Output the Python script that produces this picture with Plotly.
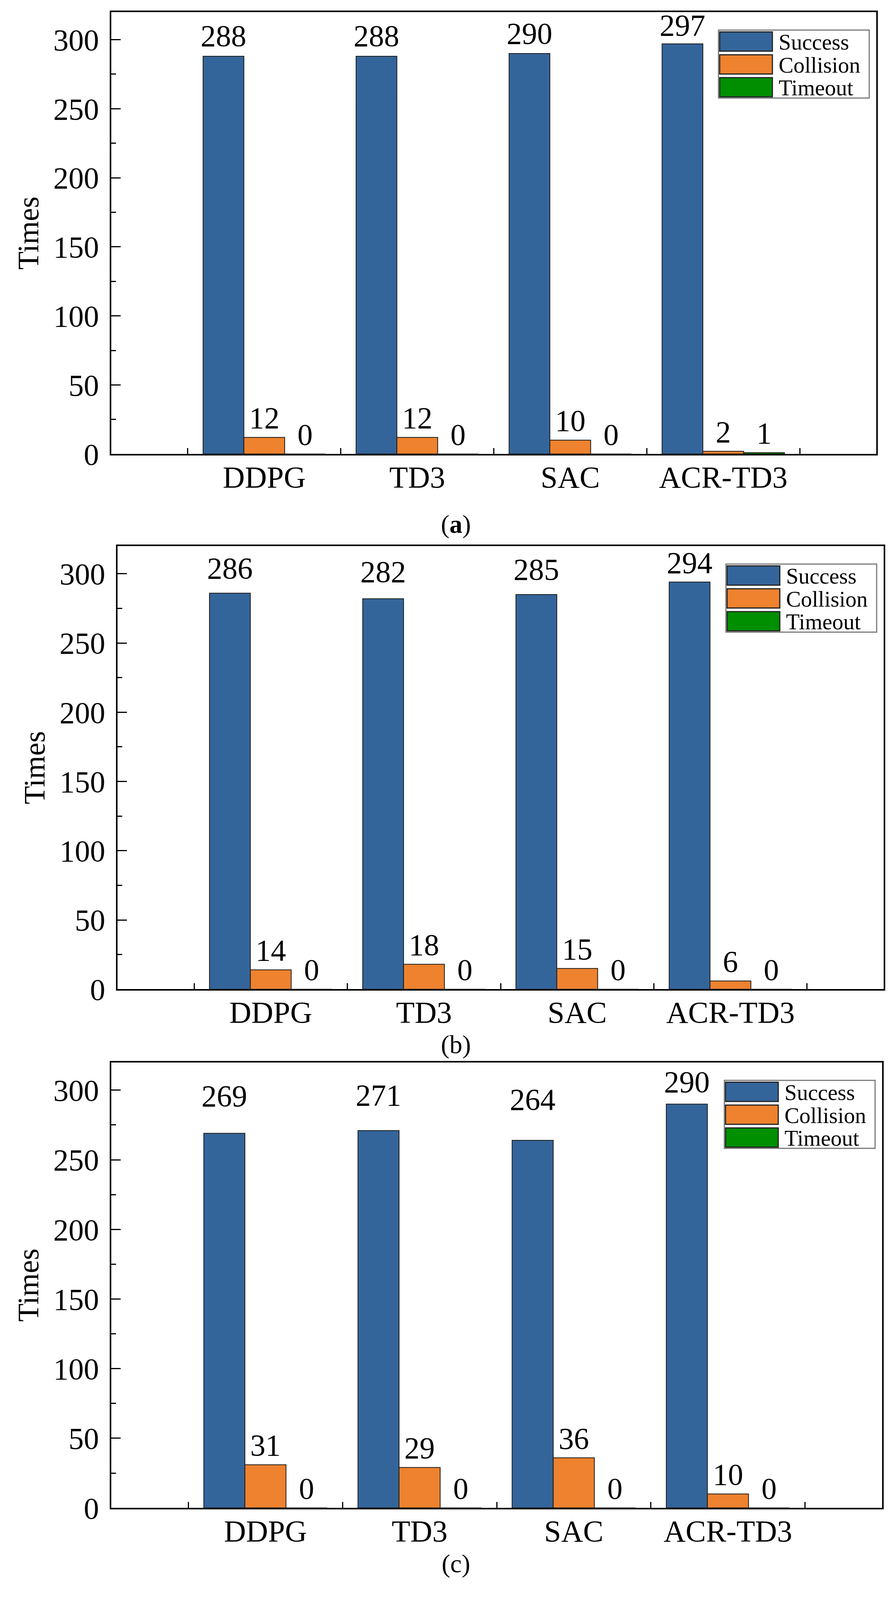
import plotly.graph_objects as go

# ---------------- data ----------------
categories = ["DDPG", "TD3", "SAC", "ACR-TD3"]
series_names = ["Success", "Collision", "Timeout"]

success_a = [288, 288, 290, 297]
collision_a = [12, 12, 10, 2]
timeout_a = [0, 0, 0, 1]

success_b = [286, 282, 285, 294]
collision_b = [14, 18, 15, 6]
timeout_b = [0, 0, 0, 0]

success_c = [269, 271, 264, 290]
collision_c = [31, 29, 36, 10]
timeout_c = [0, 0, 0, 0]

y_ticks = [0, 50, 100, 150, 200, 250, 300]
panel_captions = ["(<b>a</b>)", "(b)", "(c)"]
y_title = "Times"

panels = [
    [success_a, collision_a, timeout_a],
    [success_b, collision_b, timeout_b],
    [success_c, collision_c, timeout_c],
]

# ---------------- style ----------------
W_REF, H_REF = 2292, 5261          # reference pixel grid used for placement
FIG_W, FIG_H = 2292, 4096          # browser viewport actually available
SY = FIG_H / H_REF                 # vertical pixel scale

FONT = "Times New Roman, Liberation Serif, serif"
colors = ["#34659A", "#EE822F", "#008F00"]
boxes = [(285, 40, 2244, 1509), (301, 1815, 2263, 3288), (285, 3531, 2259, 5012)]
caption_y_px = [1742, 3472, 5198]
caption_x_px = 1167
# label offsets above bar tops (reference pixels), per panel
success_label_gap = [[33, 33, 32, 16], [48, 55, 49, 29], [89, 83, 100, 39]]
other_label_gap = 30
LABEL_FS = 78
TICK_FS = 78
TITLE_FS = 76
LEGEND_FS = 57
CAPTION_FS = 66


def px2x(px):
    return px / W_REF


def px2y(py):
    return 1 - py / H_REF


def gap_to_size(gap_ref, fs=LABEL_FS):
    gap = gap_ref * SY
    r = gap - 0.25 * fs
    mr = max((r - 1) * 0.8, 0.5)
    return 2 * mr


fig = go.Figure()
layout_axes = {}
shapes = []
annotations = []

for p, (series, box) in enumerate(zip(panels, boxes)):
    L, T, R, B = box
    xa = "x" if p == 0 else f"x{p+1}"
    ya = "y" if p == 0 else f"y{p+1}"
    for s, (name, vals) in enumerate(zip(series_names, series)):
        fig.add_trace(go.Bar(
            x=categories, y=vals, name=name,
            marker=dict(color=colors[s], line=dict(color="#1a1a1a", width=2)),
            offsetgroup=str(s + 1),
            xaxis=xa, yaxis=ya, showlegend=False,
        ))
        if s == 0:
            sizes = [gap_to_size(g) for g in success_label_gap[p]]
        else:
            sizes = [gap_to_size(other_label_gap)] * len(vals)
        fig.add_trace(go.Scatter(
            x=categories, y=vals, mode="markers+text",
            text=[str(v) for v in vals], textposition="top center",
            textfont=dict(family=FONT, size=LABEL_FS, color="black"),
            marker=dict(size=sizes, color="rgba(0,0,0,0)",
                        line=dict(width=0, color="rgba(0,0,0,0)")),
            offsetgroup=str(s + 1),
            xaxis=xa, yaxis=ya, showlegend=False, cliponaxis=False,
            hoverinfo="skip",
        ))

    xkey = "xaxis" if p == 0 else f"xaxis{p+1}"
    ykey = "yaxis" if p == 0 else f"yaxis{p+1}"
    layout_axes[xkey] = dict(
        domain=[px2x(L), px2x(R)], anchor=ya,
        type="category", range=[-1, 4],
        showline=True, mirror=True, linecolor="black", linewidth=4,
        ticks="inside", tickson="boundaries", ticklen=15, tickwidth=3, tickcolor="black",
        tickfont=dict(family=FONT, size=TICK_FS, color="black"),
        ticklabelstandoff=-12,
        showgrid=False, zeroline=False,
    )
    layout_axes[ykey] = dict(
        domain=[px2y(B), px2y(T)], anchor=xa,
        range=[0, 320], tickvals=y_ticks,
        showline=True, mirror=True, linecolor="black", linewidth=4,
        ticks="inside", ticklen=24, tickwidth=3, tickcolor="black",
        minor=dict(ticks="inside", ticklen=12, tickwidth=3, tickcolor="black", dtick=25),
        tickfont=dict(family=FONT, size=TICK_FS, color="black"),
        ticklabelstandoff=12,
        title=dict(text=y_title, font=dict(family=FONT, size=TITLE_FS, color="black"), standoff=14),
        showgrid=False, zeroline=False,
    )

    annotations.append(dict(
        xref="paper", yref="paper", x=px2x(caption_x_px), y=px2y(caption_y_px[p]),
        text=panel_captions[p], showarrow=False, xanchor="center", yanchor="middle",
        font=dict(family=FONT, size=CAPTION_FS, color="black"),
    ))

    # legend box drawn to look like the original (large swatches)
    lg_left = R - 404
    lg_top = T + 60
    lg_w, lg_h = 386, 226
    shapes.append(dict(
        type="rect", xref="paper", yref="paper",
        x0=px2x(lg_left), x1=px2x(lg_left + lg_w),
        y0=px2y(lg_top + lg_h), y1=px2y(lg_top),
        line=dict(color="#7a7a7a", width=3), fillcolor="white", layer="above",
    ))
    for s, name in enumerate(series_names):
        st = lg_top + 6 + 76 * s
        shapes.append(dict(
            type="rect", xref="paper", yref="paper",
            x0=px2x(lg_left + 3), x1=px2x(lg_left + 138),
            y0=px2y(st + 64), y1=px2y(st),
            line=dict(color="#222222", width=3), fillcolor=colors[s], layer="above",
        ))
        annotations.append(dict(
            xref="paper", yref="paper", x=px2x(lg_left + 152), y=px2y(st + 34),
            text=name, showarrow=False, xanchor="left", yanchor="middle",
            font=dict(family=FONT, size=LEGEND_FS, color="black"),
        ))

fig.update_layout(
    width=FIG_W, height=FIG_H,
    margin=dict(l=0, r=0, t=0, b=0),
    paper_bgcolor="white", plot_bgcolor="white",
    barmode="group", bargap=0.2, bargroupgap=0,
    scattermode="group", scattergap=0.2,
    shapes=shapes, annotations=annotations,
    showlegend=False,
    **layout_axes,
)

post = (
    "document.body.style.margin='0';"
    "document.documentElement.style.overflow='hidden';"
    "var gd=document.getElementById('{plot_id}');"
    "var ih=window.innerHeight, iw=window.innerWidth;"
    "if (ih>0 && iw>0 && (ih!==" + str(FIG_H) + " || iw!==" + str(FIG_W) + ")) {"
    "  Plotly.relayout(gd, {height: ih, width: iw});"
    "}"
)
fig.write_html("out.html", post_script=post, config={"displayModeBar": False})
